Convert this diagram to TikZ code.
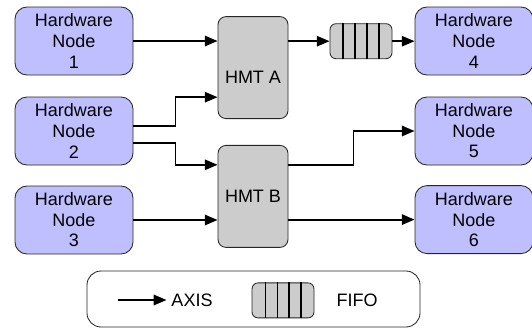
\documentclass[tikz,border=0pt]{standalone}
\usepackage{fontspec}
\setmainfont{Liberation Sans}
\usetikzlibrary{positioning, arrows.meta, calc}
\definecolor{hwblue}{RGB}{191,191,255}
\definecolor{hmtgray}{RGB}{204,204,204}
\newcommand{\diagfont}{\fontsize{12.8}{14.6}\selectfont}

\tikzset{
	hwnode/.style={draw=black!85, rectangle, rounded corners=0.3cm, minimum height=1.7cm,
		minimum width=2.95cm, text width=2.6cm, align=center, fill=hwblue, line width=0.6pt},
	hmtbox/.style={draw=black!85, rectangle, rounded corners=0.2cm, minimum height=2.55cm,
		minimum width=1.75cm, fill=hmtgray, line width=0.6pt},
	fifobox/.style={draw=black!85, rectangle, rounded corners=0.15cm, minimum height=0.875cm,
		minimum width=1.55cm, fill=hmtgray, line width=0.6pt},
	axis/.style={-{Triangle[length=0.32cm,width=0.26cm]}, line width=1.3pt}
}

\begin{document}
\begin{tikzpicture}[font=\diagfont]
		\useasboundingbox (0,0) rectangle (13.3,-8.25);
		
		%Hardware nodes on the left
		\node (hn1) at (1.85,-1.025) [hwnode]{Hardware\\Node\\1};
		\node (hn2) at (1.85,-3.275) [hwnode]{Hardware\\Node\\2};
		\node (hn3) at (1.85,-5.5) [hwnode]{Hardware\\Node\\3};
		
		%The two HMT blocks
		\node (hmta) at (6.325,-1.69) [hmtbox, label={[yshift=-0.24cm]center:HMT A}]{};
		\node (hmtb) at (6.325,-4.91) [hmtbox]{HMT B};
		
		%FIFO between HMT A and node 4
		\node (fifo) at (9.025,-1.03) [fifobox]{};
		\foreach \dx in {-0.45,-0.15,0.15,0.45}
			\draw[line width=0.8pt] ([xshift=\dx cm]fifo.north) -- ([xshift=\dx cm]fifo.south);
		
		%Hardware nodes on the right
		\node (hn4) at (11.85,-1.025) [hwnode]{Hardware\\Node\\4};
		\node (hn5) at (11.85,-3.275) [hwnode]{Hardware\\Node\\5};
		\node (hn6) at (11.85,-5.49) [hwnode]{Hardware\\Node\\6};
		
		%Links among blocks
		\draw[axis] (hn1.east) -- (hn1.east -| hmta.west);
		\draw[axis] ([yshift=0.13cm]hn2.east) -- ++(1.05,0) |- ([yshift=-0.74cm]hmta.west);
		\draw[axis] ([yshift=-0.3cm]hn2.east) -- ++(1.05,0) |- ([yshift=0.79cm]hmtb.west);
		\draw[axis] (hn3.east) -- (hn3.east -| hmtb.west);
		\draw[axis] (fifo.west -| hmta.east) -- (fifo.west);
		\draw[axis] (fifo.east) -- (fifo.east -| hn4.west);
		\draw[axis] ([yshift=0.79cm]hmtb.east) -- ++(1.625,0) |- (hn5.west);
		\draw[axis] (hn6.west -| hmtb.east) -- (hn6.west);
		
		%Legend
		\node (legend) at (6.3375,-7.475) [draw=black!85, rectangle, rounded corners=0.35cm,
		minimum height=1.4cm, minimum width=8.325cm, line width=0.6pt]{};
		\coordinate (axisstart) at (2.95,-7.5);
		\node (axislabel) at (4.8,-7.5) {AXIS};
		\draw[axis] (axisstart) -- (axislabel.west);
		\node (fifoicon) at (7.075,-7.51) [fifobox]{};
		\foreach \dx in {-0.43,-0.13,0.15,0.45}
			\draw[line width=0.8pt] ([xshift=\dx cm]fifoicon.north) -- ([xshift=\dx cm]fifoicon.south);
		\node (fifolabel) at (8.925,-7.5) {FIFO};
		
\end{tikzpicture}
\end{document}
